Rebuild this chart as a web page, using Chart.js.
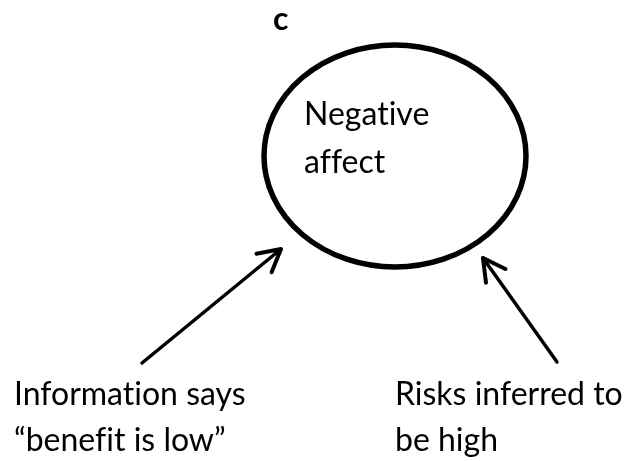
<!DOCTYPE html>
<html>
<head>
<meta charset="utf-8">
<script src="https://cdn.jsdelivr.net/npm/chart.js@4.4.1/dist/chart.umd.min.js"></script>
<style>
  html, body { margin: 0; padding: 0; background: #fff; }
  #wrap { width: 633px; height: 461px; }
</style>
</head>
<body>
<div id="wrap"><canvas id="myChart" width="633" height="461"></canvas></div>
<script>
// diagram content (page units: x to the right, y downwards)
const ovalCenter = { x: 395, y: 156 };
const arrowTails = [{ x: 142, y: 363 }, { x: 557, y: 362 }];
const arrowTips = [{ x: 281, y: 249 }, { x: 483, y: 258 }];
const labelTexts = ['c', 'Negative', 'affect', 'Information says', '\u201cbenefit is low\u201d', 'Risks inferred to', 'be high'];
const labelX = [273, 304, 304, 14, 14, 395, 395];
const labelY = [30, 125, 173, 405, 451, 405, 451];
const labelBold = [true, false, false, false, false, false, false];

// the oval is drawn as a custom point style
function ovalImage(rx, ry, lw) {
    var c = document.createElement('canvas');
    c.width = Math.ceil(2 * rx + lw + 2);
    c.height = Math.ceil(2 * ry + lw + 2);
    var g = c.getContext('2d');
    g.lineWidth = lw;
    g.strokeStyle = '#000';
    g.beginPath();
    g.ellipse(c.width / 2, c.height / 2, rx, ry, 0, 0, Math.PI * 2);
    g.stroke();
    return c;
}

// arrow heads and the text labels
var diagramPlugin = {
    id: 'diagram',
    afterDatasetsDraw(chart) {
        var ctx = chart.ctx;
        var xs = chart.scales.x, ys = chart.scales.y;
        ctx.save();
        ctx.strokeStyle = '#000';
        ctx.lineWidth = 4;
        ctx.lineCap = 'round';
        ctx.lineJoin = 'round';
        arrowTips.forEach(function (tip, i) {
            var tx = xs.getPixelForValue(tip.x), ty = ys.getPixelForValue(tip.y);
            var bx = xs.getPixelForValue(arrowTails[i].x), by = ys.getPixelForValue(arrowTails[i].y);
            var a = Math.atan2(by - ty, bx - tx);
            var len = 25, spread = Math.PI / 6.3;
            ctx.beginPath();
            ctx.moveTo(tx + len * Math.cos(a - spread), ty + len * Math.sin(a - spread));
            ctx.lineTo(tx, ty);
            ctx.lineTo(tx + len * Math.cos(a + spread), ty + len * Math.sin(a + spread));
            ctx.stroke();
        });
        ctx.fillStyle = '#000';
        ctx.textAlign = 'left';
        ctx.textBaseline = 'alphabetic';
        if ('textRendering' in ctx) ctx.textRendering = 'optimizeSpeed';
        labelTexts.forEach(function (t, i) {
            ctx.font = (labelBold[i] ? 'bold ' : '') + '32px Lato, Carlito, Calibri, sans-serif';
            ctx.fillText(t, xs.getPixelForValue(labelX[i]), ys.getPixelForValue(labelY[i]));
        });
        ctx.restore();
    }
};

var datasets = [{
    type: 'scatter',
    data: [ovalCenter],
    pointStyle: ovalImage(131, 111, 5.5),
    pointRadius: 10,
    clip: false
}];
arrowTails.forEach(function (tail, i) {
    datasets.push({
        type: 'line',
        data: [tail, arrowTips[i]],
        borderColor: '#000',
        borderWidth: 3.5,
        borderCapStyle: 'round',
        pointRadius: 0,
        clip: false
    });
});

var ctx = document.getElementById('myChart').getContext('2d');
var chart = new Chart(ctx, {
    type: 'scatter',
    data: { datasets: datasets },
    options: {
        responsive: false,
        animation: false,
        devicePixelRatio: 1,
        layout: { padding: 0, autoPadding: false },
        plugins: { legend: { display: false }, tooltip: { enabled: false } },
        scales: {
            x: { type: 'linear', min: 0, max: 633, display: false },
            y: { type: 'linear', min: 0, max: 461, reverse: true, display: false }
        }
    },
    plugins: [diagramPlugin]
});
</script>
</body>
</html>
